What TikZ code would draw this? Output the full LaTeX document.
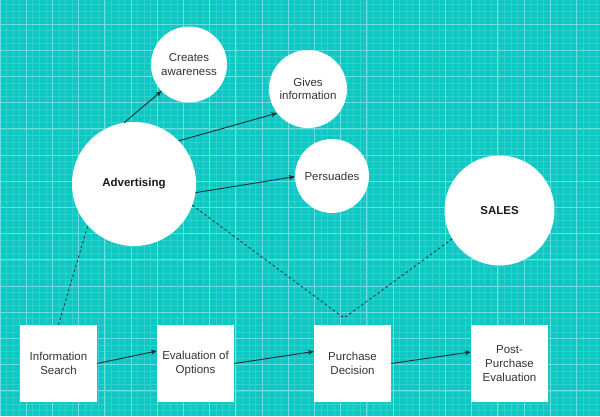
\documentclass[tikz,border=0pt]{standalone}
\usepackage{fontspec}
\setmainfont{Liberation Sans}
\usetikzlibrary{arrows.meta,calc}
\definecolor{bg}{RGB}{14,200,196}
\definecolor{gridminor}{RGB}{48,209,205}
\definecolor{gridmajor}{RGB}{105,223,219}
\definecolor{txt}{RGB}{51,51,51}
\definecolor{boldtxt}{RGB}{26,26,26}
\definecolor{ln}{RGB}{28,44,50}
\begin{document}
\begin{tikzpicture}[x=1pt,y=-1pt,
  bubble/.style={circle,fill=white,inner sep=0pt,text=txt,font=\fontsize{11.5}{13.7}\selectfont,align=center},
  stagebox/.style={rectangle,fill=white,minimum width=77pt,minimum height=77pt,inner sep=0pt,text=txt,font=\fontsize{11.5}{13.7}\selectfont,align=center},
  arr/.style={draw=ln,line width=0.9pt,-{Stealth[length=6pt,width=5pt]}},
  dline/.style={draw=ln,line width=0.8pt,dash pattern=on 2.5pt off 2.5pt}]
\useasboundingbox (0,0) rectangle (600,416);
\fill[bg] (0,0) rectangle (600,416);
\begin{scope}
\clip (0,0) rectangle (600,416);
\foreach \i in {0,...,92} {\draw[gridminor,line width=0.6pt] (\i*6.55,0) -- (\i*6.55,416);}
\foreach \i in {0,...,64} {\draw[gridminor,line width=0.6pt] (0,-2.2+\i*6.55) -- (600,-2.2+\i*6.55);}
\foreach \i in {0,...,23} {\draw[gridmajor,line width=0.8pt] (\i*26.2,0) -- (\i*26.2,416);}
\foreach \i in {0,...,16} {\draw[gridmajor,line width=0.8pt] (0,-2.2+\i*26.2) -- (600,-2.2+\i*26.2);}
\end{scope}
% circles
\node[bubble,minimum size=76pt] (ca) at (189,64.5) {Creates\\awareness};
\node[bubble,minimum size=78pt] (gi) at (308,89) {Gives\\information};
\node[bubble,minimum size=74pt] (pe) at (332,176) {Persuades};
\node[bubble,minimum size=124pt,text=boldtxt,font=\fontsize{11.5}{13.7}\selectfont\bfseries] (adv) at (134,184) {Advertising};
\node[bubble,minimum size=110pt,text=boldtxt,font=\fontsize{11.5}{13.7}\selectfont\bfseries] (sales) at (499.5,210.5) {SALES};
% boxes
\node[stagebox] (info) at (58.5,363.5) {Information\\Search};
\node[stagebox] (eval) at (195.5,363.5) {Evaluation of\\Options};
\node[stagebox] (pd) at (352.5,363.5) {Purchase\\Decision};
\node[stagebox] (post) at (509.5,363.5) {Post-\\Purchase\\Evaluation};
\coordinate (pdtop) at (344,318);
% connectors
\draw[arr] (adv.99) -- (ca.224);
\draw[arr] (adv.44) -- (gi.218);
\draw[arr] (adv.-8) -- (pe.181);
\draw[dline] (adv.-20) -- (pdtop);
\draw[dline] (sales.211) -- (pdtop);
\draw[dline] (info.north) -- (adv.222);
\draw[arr] (info.east) -- ([yshift=12.5pt]eval.west);
\draw[arr] (eval.east) -- ([yshift=12pt]pd.west);
\draw[arr] (pd.east) -- ([yshift=11.5pt]post.west);
\end{tikzpicture}
\end{document}
